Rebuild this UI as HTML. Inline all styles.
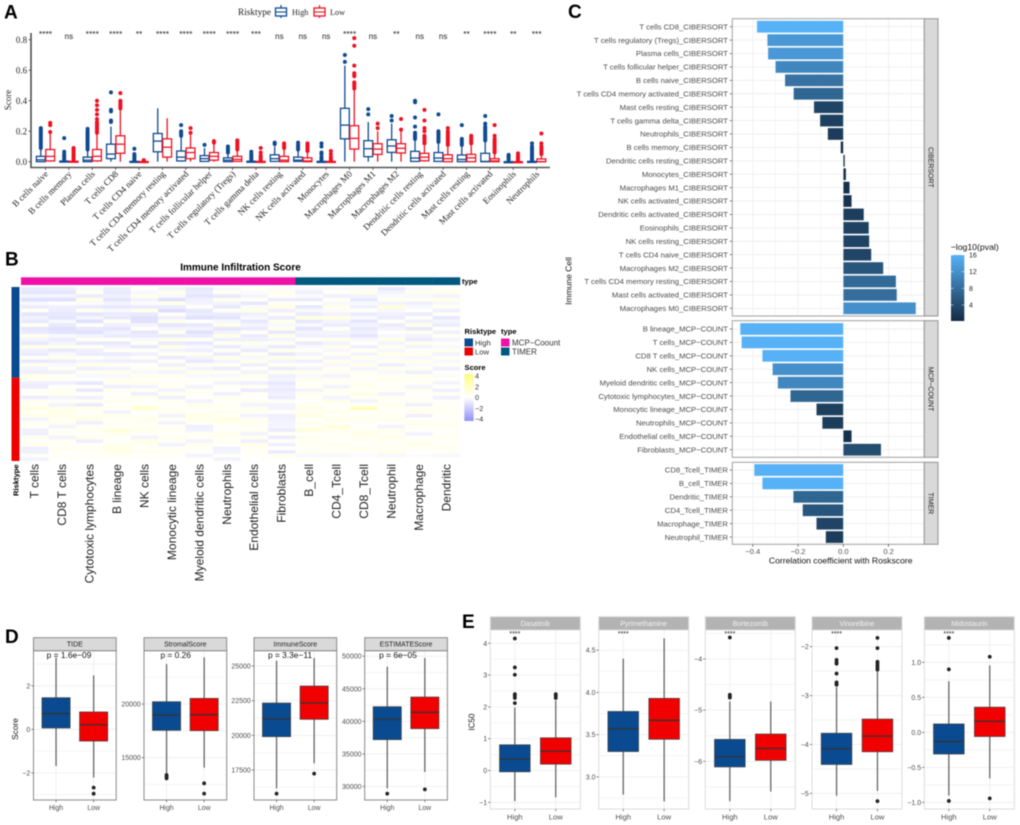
<!DOCTYPE html>
<html lang="en">
<head>
<meta charset="utf-8">
<title>Immune infiltration figure</title>
<style>
html,body{margin:0;padding:0;background:#fff;}
body{width:1020px;height:825px;overflow:hidden;}
svg{display:block;filter:blur(.45px);}
</style>
</head>
<body>
<svg id="fig" xmlns="http://www.w3.org/2000/svg" width="1020" height="825" viewBox="0 0 1020 825">
<defs>
<linearGradient id="pvalGrad" x1="0" y1="1" x2="0" y2="0"><stop offset="0" stop-color="#132B43"/><stop offset="1" stop-color="#56B1F7"/></linearGradient>
<linearGradient id="scoreGrad" x1="0" y1="0" x2="0" y2="1"><stop offset="0" stop-color="#fdfd80"/><stop offset=".5" stop-color="#ffffff"/><stop offset="1" stop-color="#9090f5"/></linearGradient>
</defs>
<rect width="1020" height="825" fill="#fff"/>
</svg>
<script>
/* ---------- Panel A ---------- */
const aCategories = ["B cells naive","B cells memory","Plasma cells","T cells CD8","T cells CD4 naive","T cells CD4 memory resting","T cells CD4 memory activated","T cells follicular helper","T cells regulatory (Tregs)","T cells gamma delta","NK cells resting","NK cells activated","Monocytes","Macrophages M0","Macrophages M1","Macrophages M2","Dendritic cells resting","Dendritic cells activated","Mast cells resting","Mast cells activated","Eosinophils","Neutrophils"];
const aSignif = ["****","ns","****","****","**","****","****","****","****","***","ns","ns","ns","****","ns","**","ns","ns","**","****","**","***"];
const aTicks = [0,0.2,0.4,0.6,0.8];
const aHighQ1 = [0,0,0,.02,0,.065,.005,.002,0,0,.002,.002,0,.15,.033,.061,.002,.002,0,0,0,0];
const aHighMed = [.012,0,.01,.05,0,.135,.03,.02,.01,0,.02,.01,0,.24,.085,.103,.024,.024,.015,.002,0,0];
const aHighQ3 = [.035,.004,.03,.115,.002,.185,.07,.04,.025,.003,.045,.03,.002,.35,.138,.144,.068,.06,.044,.055,0,.002];
const aHighLo = [0,0,0,0,0,0,0,0,0,0,0,0,0,0,0,0,0,0,0,0,0,0];
const aHighHi = [.08,.01,.07,.23,.005,.35,.16,.09,.05,.008,.1,.07,.005,.63,.26,.25,.14,.12,.1,.13,0,.005];
const aHighOut = [
 [.09,.1,.11,.12,.13,.14,.15,.16,.17,.18,.19,.2,.21,.22],
 [.01,.02,.03,.04,.05,.065,.155],
 [.08,.09,.1,.11,.12,.13,.14,.15,.16,.17,.18,.19,.2,.215],
 [.26,.27,.33,.34,.455],
 [.01,.02,.03,.04,.05,.085],
 [],
 [.17,.18,.19,.2,.24],
 [.11],
 [.06,.07,.08,.09,.1],
 [.01,.02,.03,.04,.05,.065],
 [.115,.125],
 [.08,.09,.1,.11,.125],
 [.01,.02,.03,.05,.06,.1,.12],
 [.655,.7],
 [.31,.345],
 [.27,.3],
 [.15,.16,.17,.18,.19,.23,.29,.39,.4],
 [.13,.14,.15,.16,.17,.18,.19,.2,.31],
 [.11,.12,.13,.14,.15,.24],
 [.14,.15,.16,.17,.18,.19,.2,.21,.22,.23,.25,.3],
 [.005,.015,.025,.035,.045],
 [.01,.02,.03,.04,.05,.06,.07,.08,.09,.1,.12]
];
const aLowQ1 = [.005,0,.005,.055,0,.03,.02,.01,.002,0,0,0,0,.083,.048,.057,.006,0,0,0,0,0];
const aLowMed = [.035,0,.035,.115,0,.095,.06,.035,.015,0,.01,.005,0,.153,.083,.088,.03,.02,.025,.005,0,0];
const aLowQ3 = [.08,.003,.08,.17,.001,.15,.09,.06,.035,.002,.035,.025,.002,.236,.118,.118,.055,.045,.048,.02,0,.018];
const aLowLo = [0,0,0,0,0,0,0,0,0,0,0,0,0,0,0,0,0,0,0,0,0,0];
const aLowHi = [.19,.008,.18,.34,.002,.285,.18,.12,.07,.006,.08,.06,.005,.47,.2,.2,.11,.1,.11,.05,0,.04];
const aLowOut = [
 [.195,.24,.255],
 [.01,.02,.03,.04,.05,.06,.07,.08,.09],
 [.19,.2,.21,.22,.23,.24,.25,.26,.28,.31,.34,.37,.4],
 [.35,.36,.37,.38,.39,.4,.45],
 [.004,.008,.01],
 [],
 [.19,.22],
 [.125,.135],
 [.08,.09,.1,.11,.12,.13,.14],
 [.01,.02,.03,.04,.06,.09],
 [.09,.1,.11,.12],
 [.07,.08,.09,.1,.11,.12],
 [.01,.02,.03,.05,.07],
 [.48,.49,.5,.51,.52,.56,.57,.58,.63,.76,.81],
 [.22,.25],
 [.21,.28],
 [.12,.13,.14,.15,.16,.17,.2,.22,.27,.34],
 [.11,.12,.13,.14,.15,.16,.17,.18,.19,.2,.22],
 [.12,.13,.14,.15,.16,.17],
 [.06,.07,.08,.09,.1,.11,.12,.13,.14,.15,.17,.24],
 [.01,.02,.03,.04,.055],
 [.05,.06,.07,.08,.09,.1,.12,.185]
];

/* ---------- Panel B ---------- */
const bColumns = ["T cells","CD8 T cells","Cytotoxic lymphocytes","B lineage","NK cells","Monocytic lineage","Myeloid dendritic cells","Neutrophils","Endothelial cells","Fibroblasts","B_cell","CD4_Tcell","CD8_Tcell","Neutrophil","Macrophage","Dendritic"];
const bColumnType = ["MCP","MCP","MCP","MCP","MCP","MCP","MCP","MCP","MCP","MCP","TIMER","TIMER","TIMER","TIMER","TIMER","TIMER"];
const bHighRowCount = 25;
const bRows = [
[-.6,-.5,-.2,-.5,.1,-.3,-.6,-.2,.2,-.1,-.2,-.1,-.1,-.6,-.2,.2],
[-.7,-.7,.3,-.6,-.2,.5,-.5,.3,-.1,.5,-.4,.2,.5,-.3,.4,.4],
[-.3,-.3,-.5,-.4,.4,-.2,-.7,-.6,-.3,.2,-.1,-.4,-.3,-.1,-.2,-.3],
[-.8,-.8,.6,-.7,-.3,-.8,-.4,.4,.2,-.5,-.5,.3,-.6,.4,.3,.5],
[-.2,.1,-.1,-.3,-.1,.5,-.3,-.3,-.6,.3,.1,-.2,-.2,-.3,-.4,-.2],
[-.5,-.4,-.5,-.6,-.5,-.5,.2,-.6,-.1,.6,-.6,.5,-.4,.9,-.2,.3],
[.3,-.5,.4,-.2,.5,-.9,-.6,.2,.6,-.4,-.2,-.1,.2,-.2,.1,-.4],
[-.7,-.6,-.7,-.5,-.6,.2,-.5,-.5,-.4,.2,-.5,-.3,-.5,-.4,-.5,.2],
[-.4,-.7,-.3,-.6,-.8,-.4,-.8,-.7,-.2,-.5,.7,.7,-.2,-.5,.2,-.6],
[-.6,-.2,-.8,.3,-.8,.4,.1,-.2,-.6,.4,-.6,-.3,-.7,.2,-.4,-.3],
[.3,-.6,.2,-.4,-.3,-.7,-.6,.5,-.3,-.2,-.2,-.5,-.3,-.5,.6,-.5],
[-.7,-.8,-.6,-.7,.2,-.3,-.3,-.7,-.5,.4,-.7,.2,-.6,-.3,-.6,.2],
[-.5,-.7,-.8,-.4,-.7,.4,-.8,-.4,.2,-.6,-.3,-.3,-.4,.1,.4,-.4],
[.4,-.2,-.3,-.5,-.5,-.6,-.5,.6,-.5,.5,-.4,-.4,-.7,-.2,-.3,.3],
[-.3,-.5,.3,.2,-.2,.5,.2,-.4,-.4,-.3,.2,.4,-.2,.5,-.5,-.3],
[-.6,-.3,-.6,-.6,.3,-.5,-.6,.3,.4,.3,-.5,-.3,.2,-.3,.5,.2],
[.5,.4,.2,-.3,-.6,.6,-.2,-.5,-.2,-.5,-.2,.5,-.4,.4,-.3,-.2],
[-.4,-.6,-.4,.2,.2,-.3,-.4,.2,-.5,.4,.2,-.2,.3,-.2,.2,.4],
[-.5,-.2,-.5,-.5,-.4,.3,.3,-.5,.3,-.6,-.3,.3,-.3,.5,.3,-.3],
[.2,.5,.2,-.2,.3,-.5,-.3,.5,-.2,.6,.3,-.3,.4,-.1,-.2,.3],
[-.6,-.5,-.3,-.4,-.4,.2,-.6,-.3,.4,-.3,-.4,.5,-.2,.3,.4,-.2],
[.4,-.2,.5,.3,.1,-.4,.2,.3,-.4,.3,.2,-.2,.5,-.4,-.1,.3],
[-.3,.3,-.4,-.3,.3,.4,-.3,-.5,.2,-.5,-.3,.3,-.3,.4,.3,-.4],
[-.4,-.4,.3,.4,-.2,-.3,.5,.3,-.3,.4,.4,.2,.2,-.2,-.4,.2],
[.5,.3,-.2,-.2,.4,.3,-.2,-.2,.5,-.4,-.2,-.3,.3,.3,.3,-.1],
[.3,.2,.1,.4,.2,.1,.2,.3,.1,-.3,.4,.3,.1,.4,.3,.2],
[-.4,-.4,-.6,.3,.4,.2,.1,-.3,-.4,-.6,.1,.2,.3,.1,.2,-.3],
[-.5,.1,.2,-.4,-.3,.3,-.3,.2,.3,-.4,.3,-.3,.4,.2,-.3,.1],
[.2,.3,-.6,.3,.3,-.3,.3,.1,-.5,-.5,-.3,.3,.1,.3,.4,-.4],
[.1,.4,.2,.1,-.4,.4,.2,-.4,.2,-.4,.4,.2,.6,-.3,.1,.3],
[-.5,-.3,-.4,.2,.4,-.4,.1,.4,.1,-.5,.2,-.3,.2,.3,.2,-.4],
[.4,.2,.3,.4,.1,.2,-.3,.1,.3,.2,.1,.5,-.3,.2,.3,.1],
[.2,-.3,-.5,.1,.3,.3,.4,.3,-.3,-.3,.3,.1,.3,.4,-.4,.2],
[.8,.5,.4,.3,1.1,.2,.3,.2,.4,-.3,.6,.2,1.6,.1,.3,.2],
[.2,.4,.2,-.3,.1,.4,.2,.4,.2,.2,.2,.4,.1,.3,.4,.3],
[.5,.6,.3,.4,.2,-.3,.6,.2,-.3,-.4,.7,.2,.3,.2,-.4,.1],
[-.3,.2,.6,.2,.5,.3,.5,.7,.3,-.4,.1,.5,.4,.4,.2,.2],
[.3,.4,-.4,.3,.2,-.3,.2,.3,.4,-.3,.4,.1,.2,.1,.4,.3],
[.2,-.3,.2,.1,.3,.2,-.4,.2,.2,-.3,.2,.8,.1,-.3,.3,.4],
[-.4,.2,.3,.8,.4,.3,-.3,.1,.3,-.5,.8,.4,.3,.4,.1,.1],
[-.4,.3,.1,.4,.2,.1,.3,.4,-.3,.3,.1,.2,.6,.2,-.3,.2],
[.4,-.3,.4,.2,-.3,.4,.2,.2,.4,-.5,.4,.3,.2,.6,.2,.3],
[.2,.3,-.4,.1,.6,.2,-.3,.3,-.4,.2,.2,.1,.3,.1,.3,.1],
[.3,.2,.1,.4,.3,-.3,.4,.1,.5,-.4,.3,.4,.1,.3,.4,.2],
[-.4,.4,.3,.6,.1,.2,.2,-.4,.2,.1,.1,.2,.4,.2,.2,.3],
[-.4,.1,.2,.5,.4,.3,.1,-.3,.3,-.5,.4,.3,.2,.5,.1,.2],
[.2,.2,.1,.2,.1,.1,-.3,.2,.1,.3,-.2,-.2,-.1,-.2,-.1,-.2],
[-.3,.1,.1,.1,.1,.1,.1,-.3,.1,.1,.2,.1,.1,.1,.1,.1]
];
const bLegendTicks = [4,2,0,-2,-4];

/* ---------- Panel C ---------- */
const cCiberLabels = ["T cells CD8_CIBERSORT","T cells regulatory (Tregs)_CIBERSORT","Plasma cells_CIBERSORT","T cells follicular helper_CIBERSORT","B cells naive_CIBERSORT","T cells CD4 memory activated_CIBERSORT","Mast cells resting_CIBERSORT","T cells gamma delta_CIBERSORT","Neutrophils_CIBERSORT","B cells memory_CIBERSORT","Dendritic cells resting_CIBERSORT","Monocytes_CIBERSORT","Macrophages M1_CIBERSORT","NK cells activated_CIBERSORT","Dendritic cells activated_CIBERSORT","Eosinophils_CIBERSORT","NK cells resting_CIBERSORT","T cells CD4 naive_CIBERSORT","Macrophages M2_CIBERSORT","T cells CD4 memory resting_CIBERSORT","Mast cells activated_CIBERSORT","Macrophages M0_CIBERSORT"];
const cCiberCorr = [-.382,-.336,-.333,-.30,-.258,-.22,-.13,-.103,-.069,-.012,.007,.012,.028,.037,.091,.113,.115,.124,.177,.233,.237,.321];
const cCiberLogP = [16,13,13,11,8.5,7,3,2.5,2,.5,.3,.4,.7,1,2.2,2.8,2.9,3.1,5,7.5,8,12];
const cMcpLabels = ["B lineage_MCP\u2212COUNT","T cells_MCP\u2212COUNT","CD8 T cells_MCP\u2212COUNT","NK cells_MCP\u2212COUNT","Myeloid dendritic cells_MCP\u2212COUNT","Cytotoxic lymphocytes_MCP\u2212COUNT","Monocytic lineage_MCP\u2212COUNT","Neutrophils_MCP\u2212COUNT","Endothelial cells_MCP\u2212COUNT","Fibroblasts_MCP\u2212COUNT"];
const cMcpCorr = [-.456,-.45,-.358,-.313,-.29,-.234,-.119,-.093,.037,.167];
const cMcpLogP = [16,16,16,12,11,7,2.5,2,.7,4];
const cTimerLabels = ["CD8_Tcell_TIMER","B_cell_TIMER","Dendritic_TIMER","CD4_Tcell_TIMER","Macrophage_TIMER","Neutrophil_TIMER"];
const cTimerCorr = [-.394,-.358,-.221,-.18,-.119,-.078];
const cTimerLogP = [16,16,7,5,3,2];
const cXTicks = [-.4,-.2,0,.2];
const cLegendTicks = [16,12,8,4];

/* ---------- Panel D ---------- */
const dNames = ["TIDE","StromalScore","ImmuneScore","ESTIMATEScore"];
const dPLabels = ["p = 1.6e\u221209","p = 0.26","p = 3.3e\u221211","p = 6e\u221205"];
const dTicks = [[-2,0,2],[15000,20000],[17500,20000,22500,25000],[30000,35000,40000,45000,50000]];
const dDomainTop = [3.617,24970,26106,50844];
const dDomainBottom = [-3.25,11055,15336,27929];
const dHighQ1 = [.06,17546,19904,37187];
const dHighMed = [.72,18975,21178,40307];
const dHighQ3 = [1.456,20217,22332,42250];
const dHighLo = [-1.69,13540,16178,29719];
const dHighHi = [3.3,23727,25385,48389];
const dHighOut = [[],[13385,13230,13074],[15793],[28900]];
const dLowQ1 = [-.54,17515,21154,38875];
const dLowMed = [.21,19006,22332,41381];
const dLowQ3 = [.8,20528,23558,43734];
const dLowLo = [-2.22,14068,17981,32225];
const dLowHi = [2.48,24348,25577,49718];
const dLowOut = [[-2.68,-2.96],[12608,11646],[17235],[29565]];

/* ---------- Panel E ---------- */
const eNames = ["Dasatinib","Pyrimethamine","Bortezomib","Vinorelbine","Midostaurin"];
const eTicks = [[-1,0,1,2,3,4],[3,3.5,4,4.5],[-6,-5,-4],[-5,-4,-3,-2],[-1,-.5,0,.5,1]];
const eDomainTop = [4.417,4.739,-3.433,-1.659,1.462];
const eDomainBottom = [-1.208,2.62,-6.932,-5.32,-1.095];
const eHighQ1 = [-.04,3.30,-6.11,-4.41,-.31];
const eHighMed = [.36,3.57,-5.91,-4.09,-.13];
const eHighQ3 = [.81,3.775,-5.57,-3.77,.12];
const eHighLo = [-.96,2.79,-6.78,-5.05,-.905];
const eHighHi = [1.98,4.4,-4.83,-2.83,.73];
const eHighOut = [[4.15,3.24,3.01,2.4,2.35,2.28,2.12],[],[-3.58,-4.7,-4.73,-4.755],[-2.03,-2.27,-2.32,-2.35,-2.55,-2.73,-2.76,-2.78],[1.35,.9,-.98]];
const eLowQ1 = [.2,3.445,-5.98,-4.15,-.06];
const eLowMed = [.61,3.67,-5.75,-3.83,.157];
const eLowQ3 = [1.03,3.93,-5.466,-3.48,.36];
const eLowLo = [-.84,2.71,-6.59,-4.95,-.657];
const eLowHi = [2.2,4.64,-4.83,-2.5,.957];
const eLowOut = [[2.4,2.35,2.28],[],[],[-1.82,-2.03,-2.31,-2.35,-2.39,-2.43,-2.47,-5.16],[1.08,-.943]];

/* ---------- helpers ---------- */
const svg = document.getElementById('fig');
const NS = 'http://www.w3.org/2000/svg';
const SANS = '"Liberation Sans", sans-serif';
const SERIF = '"Liberation Serif", serif';
const NAVY = '#0a4a90';
const RED = '#f00000';
function mk(tag, attrs, name, parent){
  const el = document.createElementNS(NS, tag);
  for (const k in attrs) el.setAttribute(k, attrs[k]);
  
  
  (parent || svg).appendChild(el);
  return el;
}
function line(x1,y1,x2,y2,stroke,w,name,parent){ return mk('line',{x1,y1,x2,y2,stroke,'stroke-width':w},name,parent); }
function rect(x,y,width,height,fill,name,parent,extra){ return mk('rect',Object.assign({x,y,width,height,fill},extra||{}),name,parent); }
function txt(x,y,s,size,name,o,parent){
  o = o || {};
  const a = {x,y,'font-size':size,'font-family':o.family||SANS,fill:o.fill||'#000','text-anchor':o.anchor||'start'};
  if (o.weight) a['font-weight'] = o.weight;
  if (o.rot !== undefined) a.transform = 'rotate('+o.rot+' '+x+' '+y+')';
  const el = mk('text',a,name,parent);
  el.textContent = s;
  return el;
}
function group(name){ return mk('g',{},name); }
function fmtMinus(v){ return String(v).replace('-','\u2212'); }

/* panel letters */
[['A',4,18.5],['B',5,265.5],['C',568,18],['D',5,643],['E',462,628]].forEach(function(l){
  txt(l[1],l[2],l[0],19,'panel-letter-'+l[0].toLowerCase(),{weight:'bold'});
});

/* ---------- draw A ---------- */
(function(){
  const g = group('panel-a-boxplot');
  const y = function(v){ return 161.7 - v*152.5; };
  const x = function(i){ return 45.5 + i*23.39; };
  line(31,33,31,168,'#444',1.5,'a-y-axis',g);
  line(30.3,167.5,550,167.5,'#555',1.6,'a-x-axis',g);
  aTicks.forEach(function(t){
    line(28.5,y(t),31,y(t),'#444',.8,'a-y-tick',g);
    txt(27,y(t)+3.1,t.toFixed(1),8.9,'a-y-tick-label',{family:SERIF,anchor:'end',fill:'#222'},g);
  });
  txt(11,100,'Score',9,'a-y-axis-title',{family:SERIF,anchor:'middle',rot:-90,fill:'#222'},g);
  function box(cx,q1,med,q3,lo,hi,out,color,nm){
    line(cx,y(q3),cx,y(hi),color,1.3,nm+'-whisker-upper',g);
    line(cx,y(q1),cx,y(lo),color,1.3,nm+'-whisker-lower',g);
    rect(cx-4.4,y(q3),8.8,Math.max(y(q1)-y(q3),1),'#fff',nm+'-box',g,{stroke:color,'stroke-width':1.3});
    line(cx-4.4,y(med),cx+4.4,y(med),color,1.3,nm+'-median',g);
    out.forEach(function(v){ mk('circle',{cx:cx,cy:y(v),r:2,fill:color},nm+'-outlier',g); });
  }
  aCategories.forEach(function(c,i){
    const cx = x(i);
    box(cx-4.7,aHighQ1[i],aHighMed[i],aHighQ3[i],aHighLo[i],aHighHi[i],aHighOut[i],'#0f4a90','a-high');
    box(cx+4.7,aLowQ1[i],aLowMed[i],aLowQ3[i],aLowLo[i],aLowHi[i],aLowOut[i],'#ee1122','a-low');
    line(cx,167.5,cx,170,'#444',.8,'a-x-tick',g);
    txt(cx+3.2,174.5,c,9,'a-x-tick-label',{family:SERIF,anchor:'end',rot:-45,fill:'#222'},g);
    const s = aSignif[i];
    txt(cx,s==='ns'?39:37,s,s==='ns'?8:8.5,'a-significance-label',{anchor:'middle',fill:'#222'},g);
  });
  /* legend */
  txt(238,15,'Risktype',9.3,'a-legend-title',{family:SERIF,fill:'#222'},g);
  [[281,'High','#0f4a90',292],[319.5,'Low','#ee1122',330]].forEach(function(k){
    line(k[0],5,k[0],18,k[2],1.2,'a-legend-whisker',g);
    rect(k[0]-5.5,8,11,8,'#fff','a-legend-key-'+k[1].toLowerCase(),g,{stroke:k[2],'stroke-width':1.3});
    line(k[0]-5.5,12,k[0]+5.5,12,k[2],1.1,'a-legend-median',g);
    txt(k[3],15,k[1],8.2,'a-legend-label',{family:SERIF,fill:'#222'},g);
  });
})();

/* ---------- draw B ---------- */
(function(){
  const g = group('panel-b-heatmap');
  const left = 21, top = 287, bottom = 461, colW = 27.44;
  const rowH = (bottom-top)/bRows.length;
  function heatColor(v){
    const t = Math.min(Math.abs(v)/4,1);
    if (v >= 0) return 'rgb(255,255,'+Math.round(255-170*t)+')';
    const c = Math.round(255-150*t);
    return 'rgb('+c+','+c+','+Math.round(255-5*t)+')';
  }
  txt(240.5,270.5,'Immune Infiltration Score',10,'b-title',{weight:'bold',anchor:'middle'},g);
  bColumns.forEach(function(name,c){
    rect(left+c*colW,277.3,colW+.2,7.7,bColumnType[c]==='MCP'?'#f010a8':'#00587f','b-type-annotation',g);
    bRows.forEach(function(row,r){
      rect(left+c*colW,top+r*rowH,colW+.1,rowH+.1,heatColor(row[c]),'b-heatmap-cell',g);
    });
    txt(left+(c+.5)*colW+4,464,name,12,'b-column-label',{anchor:'end',rot:-90,fill:'#222'},g);
  });
  const split = top + bHighRowCount*rowH;
  rect(11.5,top,8,split-top,NAVY,'b-risktype-high',g);
  rect(11.5,split,8,bottom-split,RED,'b-risktype-low',g);
  txt(18.5,496,'Risktype',7.6,'b-risktype-label',{weight:'bold',rot:-90},g);
  txt(462,284,'type',7.6,'b-type-label',{weight:'bold'},g);
  txt(464.5,334,'Risktype',7.6,'b-legend-risktype-title',{weight:'bold'},g);
  txt(501,334,'type',7.6,'b-legend-type-title',{weight:'bold'},g);
  rect(464.5,338.5,8.5,8,NAVY,'b-legend-key-high',g);
  rect(464.5,347.5,8.5,8,RED,'b-legend-key-low',g);
  txt(475,345.5,'High',7.7,'b-legend-label-high',{fill:'#333'},g);
  txt(475,354.5,'Low',7.7,'b-legend-label-low',{fill:'#333'},g);
  rect(501,338.5,8.5,8,'#f010a8','b-legend-key-mcp',g);
  rect(501,347.5,8.5,8,'#00587f','b-legend-key-timer',g);
  txt(512,345.5,'MCP\u2212Coount',8,'b-legend-label-mcp',{fill:'#333'},g);
  txt(512,354.5,'TIMER',8,'b-legend-label-timer',{fill:'#333'},g);
  txt(464.5,370,'Score',7.6,'b-legend-score-title',{weight:'bold'},g);
  rect(464.3,374,9.3,47,'url(#scoreGrad)','b-legend-colorbar',g);
  bLegendTicks.forEach(function(t){
    const yy = 397.5 - t*5.4;
    txt(475,yy+2.6,fmtMinus(t),7.3,'b-legend-tick-label',{fill:'#333'},g);
  });
})();

/* ---------- draw C ---------- */
(function(){
  const g = group('panel-c-correlation');
  const x = function(v){ return 843.3 + v*226.2; };
  const x0 = 732.3, x1 = 924.3, sx1 = 938;
  function colorFor(p){
    const t = Math.min(Math.max(p/16,0),1);
    const mix = function(a,b){ return Math.round(a+(b-a)*t); };
    return 'rgb('+mix(19,86)+','+mix(43,177)+','+mix(67,247)+')';
  }
  function facet(labels,corr,logp,yTop,yBot,firstY,strip,nm){
    rect(x0,yTop,x1-x0,yBot-yTop,'#fff',nm+'-panel',g);
    [-.4,-.3,-.2,-.1,0,.1,.2,.3].forEach(function(t){
      line(x(t),yTop,x(t),yBot,'#f0f0f0',Math.round(t*10)%2===0?.9:.5,nm+'-gridline',g);
    });
    labels.forEach(function(l,i){
      const cy = firstY + i*13.41;
      line(x0,cy,x1,cy,'#eeeeee',.9,nm+'-gridline-horizontal',g);
      const v = corr[i];
      rect(Math.min(x(0),x(v)),cy-6,Math.abs(x(v)-x(0)),12,colorFor(logp[i]),nm+'-bar',g,{stroke:'#fff','stroke-opacity':.55,'stroke-width':.5});
      line(729.8,cy,x0,cy,'#444',.7,nm+'-y-tick',g);
      txt(728,cy+2.7,l,7.7,nm+'-y-label',{anchor:'end',fill:'#4d4d4d'},g);
    });
    rect(x0,yTop,x1-x0,yBot-yTop,'none',nm+'-panel-border',g,{stroke:'#a8a8a8','stroke-width':1.1});
    rect(x1,yTop,sx1-x1,yBot-yTop,'#d9d9d9',nm+'-strip',g,{stroke:'#9a9a9a','stroke-width':1.1});
    txt((x1+sx1)/2-2.5,(yTop+yBot)/2,strip,7,nm+'-strip-label',{anchor:'middle',rot:90,fill:'#1a1a1a'},g);
  }
  facet(cCiberLabels,cCiberCorr,cCiberLogP,18.7,316,26.7,'CIBERSORT','c-cibersort');
  facet(cMcpLabels,cMcpCorr,cMcpLogP,320.7,457.3,329,'MCP\u2212COUNT','c-mcp-count');
  facet(cTimerLabels,cTimerCorr,cTimerLogP,462.3,544.3,470,'TIMER','c-timer');
  cXTicks.forEach(function(t){
    line(x(t),544.3,x(t),546.8,'#444',.7,'c-x-tick',g);
    txt(x(t),554,fmtMinus(t.toFixed(1)),7.5,'c-x-tick-label',{anchor:'middle',fill:'#4d4d4d'},g);
  });
  txt(840.7,563.5,'Correlation coefficient with Roskscore',8.6,'c-x-axis-title',{anchor:'middle',fill:'#111'},g);
  txt(571.5,281,'Immune Cell',8.5,'c-y-axis-title',{anchor:'middle',rot:-90,fill:'#111'},g);
  txt(950.7,250,'\u2212log10(pval)',8.7,'c-legend-title',{fill:'#111'},g);
  rect(951,255,13.3,66,'url(#pvalGrad)','c-legend-colorbar',g);
  cLegendTicks.forEach(function(t){
    const yy = 255 + (16-t)*4.17;
    line(951,yy,953.5,yy,'#fff',.5,'c-legend-tick',g);
    line(961.8,yy,964.3,yy,'#fff',.5,'c-legend-tick',g);
    txt(969,yy+2.5,String(t),7,'c-legend-tick-label',{fill:'#222'},g);
  });
})();

/* ---------- facet box plots for D & E ---------- */
function boxFacet(o){
  const g = group(o.nm+'-facet');
  const y = function(v){ return o.y0 + (o.top-v)/(o.top-o.bot)*(o.y1-o.y0); };
  const w = o.x1-o.x0, unit = w/2.2;
  const cH = o.x0+.6*unit, cL = o.x0+1.6*unit, bw = unit*.75;
  rect(o.x0,o.y0,w,o.y1-o.y0,'#fff',o.nm+'-panel',g);
  const ticks = o.ticks, step = ticks[1]-ticks[0];
  for (let v = ticks[0]-step*3; v <= ticks[ticks.length-1]+step*3; v += step/2){
    if (v < o.bot || v > o.top) continue;
    const major = ticks.some(function(t){ return Math.abs(t-v) < step*.01; });
    line(o.x0,y(v),o.x1,y(v),'#efefef',major?1:.7,o.nm+'-gridline',g);
  }
  [cH,cL].forEach(function(c){ line(c,o.y0,c,o.y1,'#f0f0f0',1,o.nm+'-gridline-vertical',g); });
  function box(c,s,fill,nm){
    line(c,y(s.hi),c,y(s.q3),'#666',1.3,nm+'-whisker-upper',g);
    line(c,y(s.q1),c,y(s.lo),'#666',1.3,nm+'-whisker-lower',g);
    rect(c-bw/2,y(s.q3),bw,y(s.q1)-y(s.q3),fill,nm+'-box',g,{stroke:'#444','stroke-width':.7});
    line(c-bw/2,y(s.med),c+bw/2,y(s.med),'#333',1.3,nm+'-median',g);
    s.out.forEach(function(v){ mk('circle',{cx:c,cy:y(v),r:1.9,fill:'#222'},nm+'-outlier',g); });
  }
  box(cH,o.high,NAVY,o.nm+'-high');
  box(cL,o.low,RED,o.nm+'-low');
  rect(o.x0,o.y0,w,o.y1-o.y0,'none',o.nm+'-panel-border',g,{stroke:o.border,'stroke-width':o.borderW});
  rect(o.x0,o.sy,w,o.y0-o.sy,o.stripFill,o.nm+'-strip',g,{stroke:o.border,'stroke-width':o.borderW});
  txt((o.x0+o.x1)/2,(o.sy+o.y0)/2+2.5,o.name,7,o.nm+'-strip-label',{anchor:'middle',fill:o.stripText},g);
  ticks.forEach(function(t){
    line(o.x0-2.2,y(t),o.x0,y(t),'#555',.7,o.nm+'-y-tick',g);
    txt(o.x0-3.2,y(t)+2.5,fmtMinus(o.fmt?t.toFixed(o.fmt):t),7,o.nm+'-y-tick-label',{anchor:'end',fill:'#4d4d4d'},g);
  });
  [[cH,'High'],[cL,'Low']].forEach(function(k){
    line(k[0],o.y1,k[0],o.y1+2.2,'#555',.7,o.nm+'-x-tick',g);
    txt(k[0],o.y1+o.xOff,k[1],o.xSize,o.nm+'-x-tick-label',{anchor:'middle',fill:'#4d4d4d'},g);
  });
  if (o.p) txt(o.px,658,o.p,8.4,o.nm+'-p-value',{anchor:'middle',fill:'#111'},g);
  if (o.stars) txt(cH,636,'****',7,o.nm+'-significance',{anchor:'middle',fill:'#222'},g);
}
(function(){
  const lefts = [33.5,144,254,364.7];
  const pxs = [69,175.7,290,398];
  dNames.forEach(function(n,i){
    boxFacet({nm:'d-'+n.toLowerCase(),name:n,x0:lefts[i],x1:lefts[i]+82.7,y0:650.7,y1:800,sy:637.7,
      top:dDomainTop[i],bot:dDomainBottom[i],ticks:dTicks[i],
      high:{q1:dHighQ1[i],med:dHighMed[i],q3:dHighQ3[i],lo:dHighLo[i],hi:dHighHi[i],out:dHighOut[i]},
      low:{q1:dLowQ1[i],med:dLowMed[i],q3:dLowQ3[i],lo:dLowLo[i],hi:dLowHi[i],out:dLowOut[i]},
      border:'#8a8a8a',borderW:1,stripFill:'#d9d9d9',stripText:'#222',xOff:10,xSize:6.9,p:dPLabels[i],px:pxs[i]});
  });
  txt(18,729,'Score',8.4,'d-y-axis-title',{anchor:'middle',rot:-90,fill:'#111'});
  const eLefts = [490.3,598.7,705.3,812,924.3];
  const eFmt = [0,1,0,0,1];
  eNames.forEach(function(n,i){
    boxFacet({nm:'e-'+n.toLowerCase(),name:n,x0:eLefts[i],x1:eLefts[i]+90,y0:630,y1:809,sy:616.7,
      top:eDomainTop[i],bot:eDomainBottom[i],ticks:eTicks[i],fmt:eFmt[i],
      high:{q1:eHighQ1[i],med:eHighMed[i],q3:eHighQ3[i],lo:eHighLo[i],hi:eHighHi[i],out:eHighOut[i]},
      low:{q1:eLowQ1[i],med:eLowMed[i],q3:eLowQ3[i],lo:eLowLo[i],hi:eLowHi[i],out:eLowOut[i]},
      border:'#dcdcdc',borderW:1,stripFill:'#b3b3b3',stripText:'#f2f2f2',xOff:10.5,xSize:7.6,stars:true});
  });
  txt(474.5,722,'IC50',8,'e-y-axis-title',{anchor:'middle',rot:-90,fill:'#111'});
})();
</script>
</body>
</html>
